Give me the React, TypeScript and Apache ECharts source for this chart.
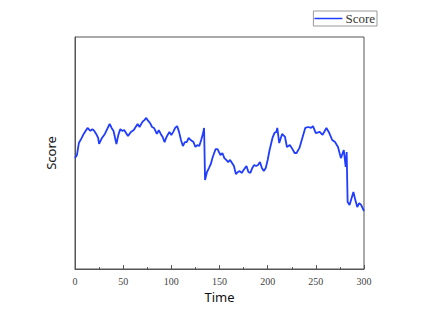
import React, { useEffect, useRef } from "react";
import * as echarts from "echarts";

const times = [0, 2, 4, 7, 9, 11, 13, 16, 18, 20, 22, 24, 25, 28, 31, 34, 36, 38, 40, 43, 45, 47, 49, 51, 53, 55, 58, 61, 63, 65, 67, 70, 72, 74, 76, 78, 80, 82, 85, 87, 89, 91, 93, 95, 98, 100, 102, 104, 106, 108, 110, 112, 114, 116, 118, 120, 123, 125, 127, 129, 131, 133, 134, 135, 137, 139, 141, 143, 146, 148, 151, 153, 155, 157, 159, 161, 163, 165, 167, 169, 171, 173, 175, 178, 180, 182, 184, 186, 188, 190, 192, 194, 196, 198, 200, 202, 205, 207, 209, 210, 212, 215, 218, 220, 223, 225, 228, 230, 233, 236, 239, 242, 245, 247, 250, 254, 257, 261, 264, 267, 270, 273, 276, 279, 281, 282, 283, 285, 289, 291, 293, 295, 297, 300];
const scores = [47.8, 49.1, 54.3, 56.5, 58.2, 59.5, 60.8, 59.5, 60.3, 59.5, 58.2, 56.5, 53.9, 56.5, 58.2, 60.8, 62.5, 60.8, 59.5, 53.9, 57.8, 60.3, 59.5, 59.9, 58.6, 57.3, 59.1, 59.9, 61.2, 62.5, 61.2, 63.4, 64.2, 65.1, 63.8, 62.9, 61.2, 60.8, 58.2, 59.9, 58.2, 56.9, 54.7, 56.9, 59.1, 57.8, 59.1, 60.8, 61.6, 59.1, 55.6, 53.0, 54.7, 54.7, 56.5, 55.6, 54.7, 52.6, 53.4, 53.0, 55.6, 58.6, 60.8, 38.4, 41.8, 43.5, 45.3, 48.3, 51.7, 51.7, 49.1, 50.0, 47.8, 47.0, 46.1, 47.0, 45.7, 44.4, 40.9, 41.8, 42.2, 41.4, 42.7, 44.4, 41.8, 41.4, 43.5, 44.8, 44.4, 44.8, 46.1, 43.5, 42.2, 43.5, 47.0, 51.3, 56.5, 58.6, 59.1, 60.8, 54.3, 58.2, 56.9, 52.6, 53.4, 52.2, 50.0, 50.0, 52.2, 56.5, 60.8, 61.2, 60.8, 61.6, 58.6, 59.1, 57.8, 60.8, 58.6, 55.6, 54.7, 52.6, 47.8, 51.3, 44.0, 50.4, 28.9, 27.6, 33.2, 29.7, 26.7, 28.4, 27.6, 25.0];
const xTicks = [0, 50, 100, 150, 200, 250, 300];

export default function App() {
  const ref = useRef<HTMLDivElement>(null);
  useEffect(() => {
    if (!ref.current) return;
    const chart = echarts.init(ref.current, undefined, { renderer: "svg" });
    const data = times.map((t, i) => [t, scores[i]]);
    chart.setOption({
      animation: false,
      backgroundColor: "#ffffff",
      grid: {
        left: 75,
        right: 59,
        top: 37,
        bottom: 55,
        show: true,
        borderColor: "#555555",
        borderWidth: 1,
      },
      legend: {
        show: true,
        data: ["Score"],
        right: 46,
        top: 11,
        orient: "horizontal",
        borderColor: "#999999",
        borderWidth: 1,
        borderRadius: 0,
        padding: [1, 2, 1, 1],
        itemWidth: 28,
        itemHeight: 10,
        itemGap: 4,
        textStyle: { fontFamily: "Liberation Serif", fontSize: 13, color: "#333333", padding: [0, 0, 0, -2] },
        icon: "path://M0,5L28,5L28,6.5L0,6.5Z",
      },
      xAxis: {
        type: "value",
        min: xTicks[0],
        max: xTicks[xTicks.length - 1],
        interval: 50,
        name: "Time",
        nameLocation: "middle",
        nameGap: 21,
        nameTextStyle: { fontFamily: "Noto Sans", fontSize: 13, color: "#111111" },
        axisLine: { show: true, lineStyle: { color: "#555555", width: 1 } },
        axisTick: { show: true, inside: true, length: 4, lineStyle: { color: "#555555" } },
        minorTick: { show: true, splitNumber: 2, length: 2, lineStyle: { color: "#555555" } },
        splitLine: { show: false },
        minorSplitLine: { show: false },
        axisLabel: { fontFamily: "Liberation Serif", fontSize: 10, color: "#444444", margin: 7 },
      },
      yAxis: {
        type: "value",
        min: 0,
        max: 100,
        name: "Score",
        nameLocation: "middle",
        nameGap: 18,
        nameTextStyle: { fontFamily: "Noto Sans", fontSize: 13, color: "#111111" },
        axisLine: { show: true, lineStyle: { color: "#555555", width: 1 } },
        axisTick: { show: false },
        axisLabel: { show: false },
        splitLine: { show: false },
      },
      series: [
        {
          name: "Score",
          type: "line",
          data,
          showSymbol: false,
          symbol: "none",
          color: "#1f3cff",
          lineStyle: { color: "#1f3cff", width: 1.8 },
        },
      ],
    });
    return () => chart.dispose();
  }, []);
  return <div ref={ref} style={{ width: 423, height: 324, position: "absolute", left: 0, top: 0 }} />;
}
